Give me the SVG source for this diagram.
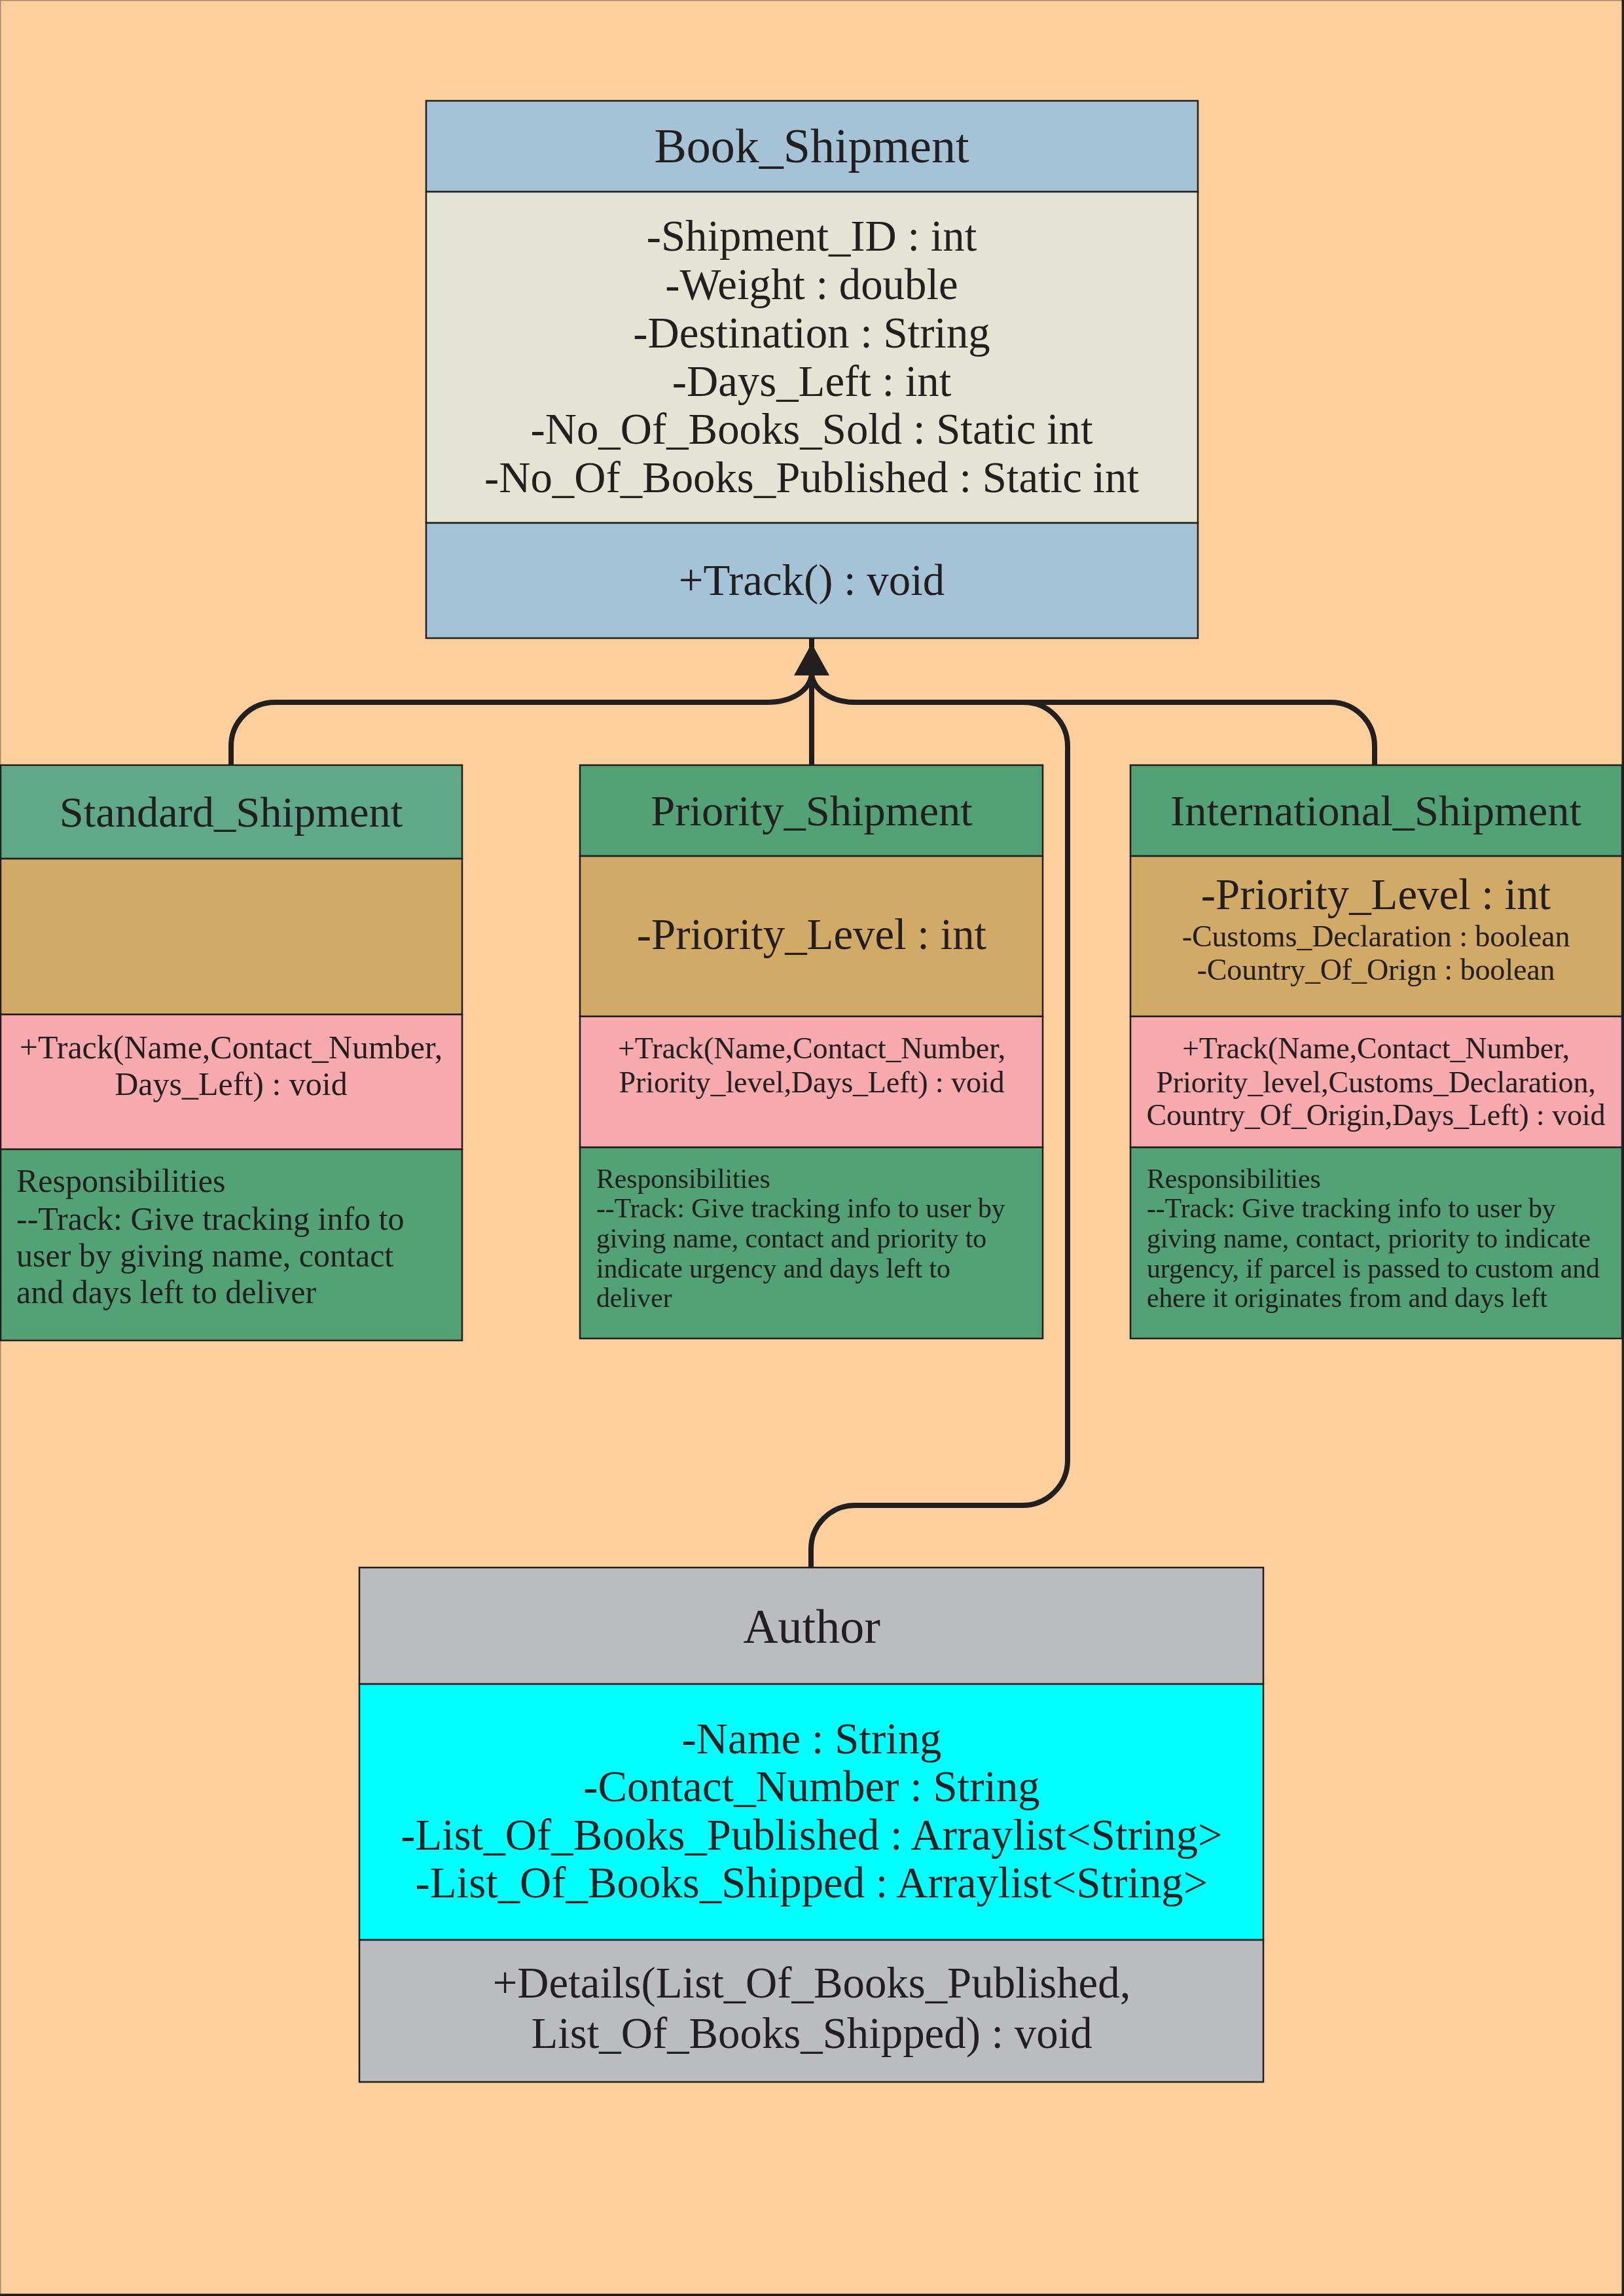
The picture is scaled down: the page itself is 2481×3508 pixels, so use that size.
<svg xmlns="http://www.w3.org/2000/svg" width="2481" height="3508" viewBox="0 0 2481 3508">
<style>
.box{stroke:#231F20;stroke-width:2.5}
.t{font-family:"Liberation Serif","Times New Roman",serif;fill:#231F20}
.c{text-anchor:middle}
.title{font-size:74px}
.sub{font-size:66.5px}
.a66{font-size:66.8px}
.a45{font-size:45.8px}
.m50{font-size:50px}
.r50{font-size:50px}
.r41{font-size:41.6px}
.con{fill:none;stroke:#231F20;stroke-width:8}
</style>
<rect x="0" y="0" width="2481" height="3508" fill="#FDCF9D"/>
<path d="M0.5 3508 V0.5 H2481" fill="none" stroke="#A88A6C" stroke-width="2"/>
<path d="M0 3506.5 H2479.5 V0" fill="none" stroke="#231F20" stroke-width="4"/>

<g id="connectors">
<path class="con" d="M353 1169 L353 1140 A67 67 0 0 1 420 1073 L1172 1073 C1210 1073 1237 1055 1240 1030"/>
<path class="con" d="M2100 1169 L2100 1140 A67 67 0 0 0 2033 1073 L1308 1073 C1270 1073 1243 1055 1240 1030"/>
<path class="con" d="M1239 2395 L1239 2367 A67 67 0 0 1 1306 2300 L1562 2300 A69 69 0 0 0 1631 2231 L1631 1140 A67 67 0 0 0 1564 1073 L1308 1073"/>
<path class="con" d="M1240 1169 L1240 976"/>
<polygon points="1240,983 1213,1032 1267,1032" fill="#231F20"/>
</g>

<g id="book_shipment">
<rect class="box" x="651" y="154" width="1179" height="139" fill="#A5C3D6"/>
<rect class="box" x="651" y="293" width="1179" height="506" fill="#E3E4D4"/>
<rect class="box" x="651" y="799" width="1179" height="176" fill="#A5C3D6"/>
<text class="t c title" x="1240" y="248">Book_Shipment</text>
<text class="t c a66" x="1240" y="383">-Shipment_ID : int</text>
<text class="t c a66" x="1240" y="457">-Weight : double</text>
<text class="t c a66" x="1240" y="531">-Destination : String</text>
<text class="t c a66" x="1240" y="605">-Days_Left : int</text>
<text class="t c a66" x="1240" y="678">-No_Of_Books_Sold : Static int</text>
<text class="t c a66" x="1240" y="752">-No_Of_Books_Published : Static int</text>
<text class="t c a66" x="1240" y="909">+Track() : void</text>
</g>

<g id="standard_shipment">
<rect class="box" x="1" y="1169" width="705" height="143" fill="#5FA889"/>
<rect class="box" x="1" y="1312" width="705" height="238" fill="#D2AA68"/>
<rect class="box" x="1" y="1550" width="705" height="206" fill="#F7AAAD"/>
<rect class="box" x="1" y="1756" width="705" height="292" fill="#52A275"/>
<text class="t c sub" x="353" y="1263">Standard_Shipment</text>
<text class="t c m50" x="353" y="1617">+Track(Name,Contact_Number,</text>
<text class="t c m50" x="353" y="1673">Days_Left) : void</text>
<text class="t r50" x="25" y="1821">Responsibilities</text>
<text class="t r50" x="25" y="1879">--Track: Give tracking info to</text>
<text class="t r50" x="25" y="1935">user by giving name, contact</text>
<text class="t r50" x="25" y="1991">and days left to deliver</text>
</g>

<g id="priority_shipment">
<rect class="box" x="886" y="1169" width="707" height="139" fill="#52A275"/>
<rect class="box" x="886" y="1308" width="707" height="245" fill="#D2AA68"/>
<rect class="box" x="886" y="1553" width="707" height="200" fill="#F7AAAD"/>
<rect class="box" x="886" y="1753" width="707" height="292" fill="#52A275"/>
<text class="t c sub" x="1240" y="1261">Priority_Shipment</text>
<text class="t c a66" x="1240" y="1450">-Priority_Level : int</text>
<text class="t c a45" x="1240" y="1617">+Track(Name,Contact_Number,</text>
<text class="t c a45" x="1240" y="1669">Priority_level,Days_Left) : void</text>
<text class="t r41" x="911" y="1815">Responsibilities</text>
<text class="t r41" x="911" y="1860">--Track: Give tracking info to user by</text>
<text class="t r41" x="911" y="1906">giving name, contact and priority to</text>
<text class="t r41" x="911" y="1952">indicate urgency and days left to</text>
<text class="t r41" x="911" y="1997">deliver</text>
</g>

<g id="international_shipment">
<rect class="box" x="1727" y="1169" width="751" height="139" fill="#52A275"/>
<rect class="box" x="1727" y="1308" width="751" height="245" fill="#D2AA68"/>
<rect class="box" x="1727" y="1553" width="751" height="200" fill="#F7AAAD"/>
<rect class="box" x="1727" y="1753" width="751" height="292" fill="#52A275"/>
<text class="t c sub" x="2102" y="1261">International_Shipment</text>
<text class="t c a66" x="2102" y="1389">-Priority_Level : int</text>
<text class="t c a45" x="2102" y="1446">-Customs_Declaration : boolean</text>
<text class="t c a45" x="2102" y="1497">-Country_Of_Orign : boolean</text>
<text class="t c a45" x="2102" y="1617">+Track(Name,Contact_Number,</text>
<text class="t c a45" x="2102" y="1669">Priority_level,Customs_Declaration,</text>
<text class="t c a45" x="2102" y="1719">Country_Of_Origin,Days_Left) : void</text>
<text class="t r41" x="1752" y="1815">Responsibilities</text>
<text class="t r41" x="1752" y="1860">--Track: Give tracking info to user by</text>
<text class="t r41" x="1752" y="1906">giving name, contact, priority to indicate</text>
<text class="t r41" x="1752" y="1952">urgency, if parcel is passed to custom and</text>
<text class="t r41" x="1752" y="1997">ehere it originates from and days left</text>
</g>

<g id="author">
<rect class="box" x="549" y="2395" width="1381" height="178" fill="#BBBCC0"/>
<rect class="box" x="549" y="2573" width="1381" height="391" fill="#00FFFF"/>
<rect class="box" x="549" y="2964" width="1381" height="217" fill="#BBBCC0"/>
<text class="t c title" x="1240" y="2510">Author</text>
<text class="t c a66" x="1240" y="2679">-Name : String</text>
<text class="t c a66" x="1240" y="2752">-Contact_Number : String</text>
<text class="t c a66" x="1240" y="2826">-List_Of_Books_Published : Arraylist&lt;String&gt;</text>
<text class="t c a66" x="1240" y="2899">-List_Of_Books_Shipped : Arraylist&lt;String&gt;</text>
<text class="t c a66" x="1240" y="3052">+Details(List_Of_Books_Published,</text>
<text class="t c a66" x="1240" y="3129">List_Of_Books_Shipped) : void</text>
</g>
</svg>
